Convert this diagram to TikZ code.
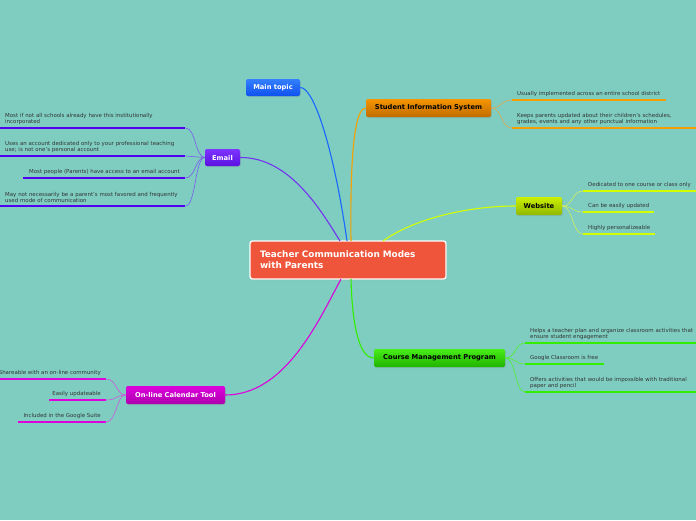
\documentclass[tikz,border=0pt]{standalone}
\usepackage{fontspec}
\setmainfont{DejaVu Sans}
\usetikzlibrary{shadows}
\hyphenpenalty=10000
\definecolor{bg}{HTML}{7ECDC0}
\definecolor{leafgray}{HTML}{333333}
\definecolor{cred}{HTML}{EE553A}
\definecolor{bluetop}{HTML}{3380FF}\definecolor{bluebot}{HTML}{0F50EE}\definecolor{blueline}{HTML}{1A66FF}
\definecolor{purtop}{HTML}{7E35FF}\definecolor{purbot}{HTML}{5A10E0}\definecolor{purline}{HTML}{5000EE}\definecolor{purthin}{HTML}{7A5AF0}
\definecolor{ortop}{HTML}{F59500}\definecolor{orbot}{HTML}{C06C00}\definecolor{orline}{HTML}{F5A000}\definecolor{orthin}{HTML}{E0A850}
\definecolor{yetop}{HTML}{CCF000}\definecolor{yebot}{HTML}{90B800}\definecolor{yeline}{HTML}{D4FF00}\definecolor{yethin}{HTML}{D0F060}
\definecolor{grtop}{HTML}{48EC18}\definecolor{grbot}{HTML}{20B400}\definecolor{grline}{HTML}{33EE00}\definecolor{grthin}{HTML}{50EE30}
\definecolor{matop}{HTML}{DC00DC}\definecolor{mabot}{HTML}{AE00AE}\definecolor{maline}{HTML}{DD00DD}\definecolor{mathin}{HTML}{CC55DD}
\tikzset{
  branch/.style={rounded corners=2pt, inner sep=0pt, font=\fontsize{6.7}{8}\selectfont\bfseries,
     drop shadow={opacity=0.25, shadow xshift=0.8pt, shadow yshift=-1pt}},
  leaf/.style={font=\fontsize{5.45}{6.6}\selectfont, text=leafgray, inner xsep=5pt, inner ysep=2.8pt},
  uline/.style={line width=2.6pt},
  trunk/.style={line width=1.1pt},
  twig/.style={line width=0.6pt},
}
\begin{document}
\begin{tikzpicture}[x=1pt,y=-1pt]
\useasboundingbox (0,0) rectangle (696,520);
\fill[bg] (0,0) rectangle (696,520);

% central node
\node[draw=white, line width=1.3pt, fill=cred, rounded corners=2.5pt, minimum width=196pt, minimum height=38pt,
  inner sep=0pt, text=white, font=\fontsize{8.9}{11}\selectfont\bfseries, text width=176pt, align=left,
  drop shadow={opacity=0.25, shadow xshift=0.8pt, shadow yshift=-1pt}]
  (c) at (348,260) {Teacher Communication Modes\\with Parents};

% branch nodes
\node[branch, top color=bluetop, bottom color=bluebot, text=white, minimum width=54pt, minimum height=17pt] (mt) at (273,87.5) {Main topic};
\node[branch, top color=purtop, bottom color=purbot, text=white, minimum width=35pt, minimum height=17pt] (em) at (222.5,157.5) {Email};
\node[branch, top color=ortop, bottom color=orbot, text=black, minimum width=125pt, minimum height=18pt] (sis) at (428.5,108) {Student Information System};
\node[branch, top color=yetop, bottom color=yebot, text=black, minimum width=46pt, minimum height=18pt] (web) at (539,206) {Website};
\node[branch, top color=grtop, bottom color=grbot, text=black, minimum width=131pt, minimum height=18pt] (cmp) at (439.5,358) {Course Management Program};
\node[branch, top color=matop, bottom color=mabot, text=white, minimum width=99pt, minimum height=18pt] (cal) at (175.5,395) {On-line Calendar Tool};

% trunk connectors
\draw[trunk, blueline] (mt.east) .. controls (314,87) and (334,150) .. (347,241);
\draw[trunk, orline] (sis.west) .. controls (354,108) and (350,160) .. (351,241);
\draw[trunk, purline!80!white] (em.east) .. controls (290,157) and (322,212) .. (340,241);
\draw[trunk, yeline] (web.west) .. controls (465,206) and (412,220) .. (383,241);
\draw[trunk, grline] (cmp.west) .. controls (358,358) and (352,320) .. (351,279);
\draw[trunk, maline] (cal.east) .. controls (285,395) and (318,322) .. (341,279);

% Email leaves
\node[leaf, anchor=south west, text width=175pt, align=left] (e1) at (0,128) {Most if not all schools already have this institutionally\\incorporated};
\node[leaf, anchor=south west, text width=175pt, align=left] (e2) at (0,156) {Uses an account dedicated only to your professional teaching\\use; is not one's personal account};
\node[leaf, anchor=south east] (e3) at (185,178) {Most people (Parents) have access to an email account};
\coordinate (e3l) at (23,178);
\node[leaf, anchor=south west, text width=175pt, align=left] (e4) at (0,206) {May not necessarily be a parent's most favored and frequently\\used mode of communication};
\foreach \n in {e1,e2,e4}{
  \draw[uline, purline] (\n.south west) -- (\n.south east);
}
\draw[uline, purline] (e3l) -- (e3.south east);
\draw[twig, purthin] (em.west) .. controls (195,157) and (196,128) .. (e1.south east);
\draw[twig, purthin] (em.west) .. controls (195,157) and (195,156) .. (e2.south east);
\draw[twig, purthin] (em.west) .. controls (195,157) and (196,178) .. (e3.south east);
\draw[twig, purthin] (em.west) .. controls (195,157) and (196,206) .. (e4.south east);

% SIS leaves
\node[leaf, anchor=south west] (s1) at (512,100) {Usually implemented across an entire school district};
\coordinate (s1r) at (666,100);
\node[leaf, anchor=south west, text width=174pt, align=left] (s2) at (512,128) {Keeps parents updated about their children's schedules,\\grades, events and any other punctual information};
\draw[uline, orline] (s1.south west) -- (s1r);
\draw[uline, orline] (s2.south west) -- (s2.south east);
\draw[twig, orthin] (sis.east) .. controls (502,108) and (501,100) .. (s1.south west);
\draw[twig, orthin] (sis.east) .. controls (502,108) and (501,128) .. (s2.south west);

% Website leaves
\node[leaf, anchor=south west] (w1) at (583,191) {Dedicated to one course or class only};
\node[leaf, anchor=south west] (w2) at (583,212) {Can be easily updated};
\node[leaf, anchor=south west] (w3) at (583,234) {Highly personalizeable};
\coordinate (w1r) at (696,191);
\coordinate (w2r) at (654,212);
\coordinate (w3r) at (655,234);
\draw[uline, yeline] (w1.south west) -- (w1r);
\draw[uline, yeline] (w2.south west) -- (w2r);
\draw[uline, yeline] (w3.south west) -- (w3r);
\draw[twig, yethin] (web.east) .. controls (573,206) and (572,191) .. (w1.south west);
\draw[twig, yethin] (web.east) .. controls (573,206) and (572,212) .. (w2.south west);
\draw[twig, yethin] (web.east) .. controls (573,206) and (572,234) .. (w3.south west);

% Course Management leaves
\node[leaf, anchor=south west, text width=171pt, align=left] (g1) at (525,343) {Helps a teacher plan and organize classroom activities that\\ensure student engagement};
\node[leaf, anchor=south west] (g2) at (525,364) {Google Classroom is free};
\coordinate (g2r) at (604,364);
\node[leaf, anchor=south west, text width=171pt, align=left] (g3) at (525,392) {Offers activities that would be impossible with traditional\\paper and pencil};
\draw[uline, grline] (g1.south west) -- (g1.south east);
\draw[uline, grline] (g2.south west) -- (g2r);
\draw[uline, grline] (g3.south west) -- (g3.south east);
\draw[twig, grthin] (cmp.east) .. controls (516,358) and (515,343) .. (g1.south west);
\draw[twig, grthin] (cmp.east) .. controls (516,358) and (515,364) .. (g2.south west);
\draw[twig, grthin] (cmp.east) .. controls (516,358) and (515,392) .. (g3.south west);

% Calendar leaves
\node[leaf, anchor=south east] (k1) at (106,379) {Shareable with an on-line community};
\node[leaf, anchor=south east] (k2) at (106,400) {Easily updateable};
\node[leaf, anchor=south east] (k3) at (106,422) {Included in the Google Suite};
\coordinate (k1l) at (0,379);
\coordinate (k2l) at (49,400);
\coordinate (k3l) at (18,422);
\draw[uline, maline] (k1l) -- (k1.south east);
\draw[uline, maline] (k2l) -- (k2.south east);
\draw[uline, maline] (k3l) -- (k3.south east);
\draw[twig, mathin] (cal.west) .. controls (116,395) and (117,379) .. (k1.south east);
\draw[twig, mathin] (cal.west) .. controls (116,395) and (117,400) .. (k2.south east);
\draw[twig, mathin] (cal.west) .. controls (116,395) and (117,422) .. (k3.south east);
\end{tikzpicture}
\end{document}
